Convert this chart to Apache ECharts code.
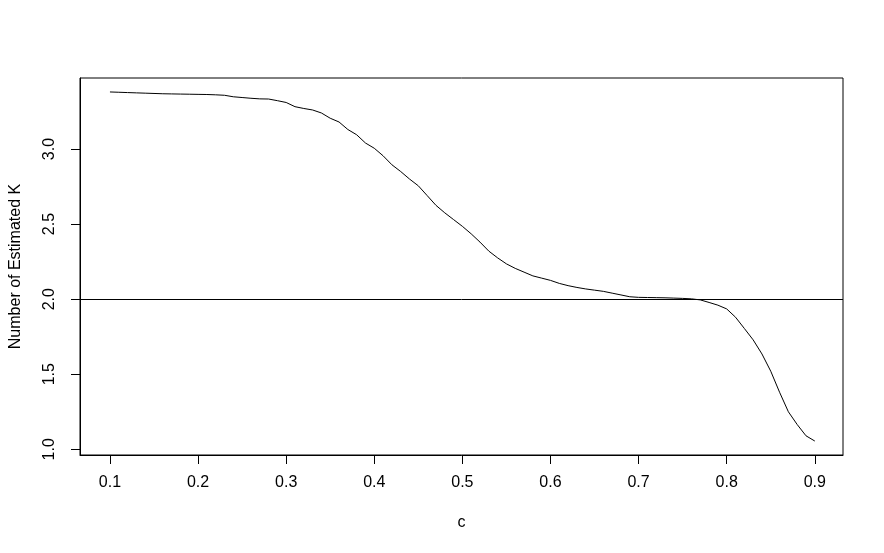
<!DOCTYPE html>
<html>
<head>
<meta charset="utf-8">
<title>Number of Estimated K</title>
<script src="https://cdn.jsdelivr.net/npm/echarts@6/dist/echarts.min.js"></script>
<style>
  html, body { margin: 0; padding: 0; background: #fff; }
  #chart { width: 884px; height: 553px; }
</style>
</head>
<body>
<div id="chart"></div>
<script>
// c values (x) and estimated K (y)
const cValues = [
  0.10, 0.11, 0.12, 0.13, 0.14, 0.15, 0.16, 0.17, 0.18, 0.19,
  0.20, 0.21, 0.22, 0.23, 0.24, 0.25, 0.26, 0.27, 0.28, 0.29,
  0.30, 0.31, 0.32, 0.33, 0.34, 0.35, 0.36, 0.37, 0.38, 0.39,
  0.40, 0.41, 0.42, 0.43, 0.44, 0.45, 0.46, 0.47, 0.48, 0.49,
  0.50, 0.51, 0.52, 0.53, 0.54, 0.55, 0.56, 0.57, 0.58, 0.59,
  0.60, 0.61, 0.62, 0.63, 0.64, 0.65, 0.66, 0.67, 0.68, 0.69,
  0.70, 0.71, 0.72, 0.73, 0.74, 0.75, 0.76, 0.77, 0.78, 0.79,
  0.80, 0.81, 0.82, 0.83, 0.84, 0.85, 0.86, 0.87, 0.88, 0.89,
  0.90
]
const kValues = [
  3.380, 3.378, 3.376, 3.374, 3.372, 3.370, 3.368, 3.367, 3.366, 3.365,
  3.364, 3.363, 3.361, 3.358, 3.348, 3.343, 3.338, 3.334, 3.333, 3.322,
  3.310, 3.282, 3.270, 3.260, 3.240, 3.205, 3.180, 3.130, 3.095, 3.040,
  3.005, 2.955, 2.895, 2.850, 2.800, 2.755, 2.690, 2.625, 2.575, 2.530,
  2.485, 2.435, 2.380, 2.320, 2.275, 2.235, 2.205, 2.180, 2.155, 2.140,
  2.125, 2.105, 2.090, 2.078, 2.068, 2.060, 2.052, 2.040, 2.028, 2.016,
  2.012, 2.011, 2.010, 2.009, 2.007, 2.005, 2.002, 1.995, 1.978, 1.960,
  1.935, 1.880, 1.805, 1.729, 1.635, 1.520, 1.380, 1.250, 1.165, 1.090,
  1.055
]
const xTicks = [0.1, 0.2, 0.3, 0.4, 0.5, 0.6, 0.7, 0.8, 0.9]
const yTicks = [1.0, 1.5, 2.0, 2.5, 3.0]
const refLine = 2

const font = 'Liberation Sans, Arial, sans-serif'

const chart = echarts.init(document.getElementById('chart'), null, { renderer: 'canvas' })

chart.setOption({
  animation: false,
  backgroundColor: '#fff',
  grid: {
    left: 78,
    right: 41,
    top: 78,
    bottom: 98,
    show: true,
    borderColor: '#000',
    borderWidth: 1,
    containLabel: false
  },
  xAxis: {
    type: 'value',
    min: 0.066,
    max: 0.932,
    name: 'c',
    nameLocation: 'middle',
    nameGap: 68,
    nameTextStyle: { color: '#000', fontFamily: font, fontSize: 16, verticalAlign: 'middle' },
    splitLine: { show: false },
    axisLine: { show: true, onZero: false, lineStyle: { color: '#000', width: 1 } },
    axisTick: {
      show: true,
      inside: false,
      length: 9,
      customValues: xTicks,
      lineStyle: { color: '#000', width: 1 }
    },
    axisLabel: {
      customValues: xTicks,
      margin: 20,
      color: '#000',
      fontFamily: font,
      fontSize: 16,
      formatter: v => v.toFixed(1)
    }
  },
  yAxis: {
    type: 'value',
    min: 0.962,
    max: 3.473,
    name: 'Number of Estimated K',
    nameLocation: 'middle',
    nameGap: 64,
    nameTextStyle: { color: '#000', fontFamily: font, fontSize: 16, verticalAlign: 'middle' },
    splitLine: { show: false },
    axisLine: { show: true, onZero: false, lineStyle: { color: '#000', width: 1 } },
    axisTick: {
      show: true,
      inside: false,
      length: 9,
      customValues: yTicks,
      lineStyle: { color: '#000', width: 1 }
    },
    axisLabel: {
      customValues: yTicks,
      rotate: 90,
      margin: 22,
      color: '#000',
      fontFamily: font,
      fontSize: 16,
      formatter: v => v.toFixed(1)
    }
  },
  series: [{
    type: 'line',
    data: cValues.map((c, i) => [c, kValues[i]]),
    showSymbol: false,
    smooth: false,
    lineStyle: { color: '#000', width: 1 },
    itemStyle: { color: '#000' },
    markLine: {
      silent: true,
      symbol: ['none', 'none'],
      label: { show: false },
      lineStyle: { color: '#000', width: 1, type: 'solid' },
      data: [{ yAxis: refLine }]
    }
  }]
})
</script>
</body>
</html>
